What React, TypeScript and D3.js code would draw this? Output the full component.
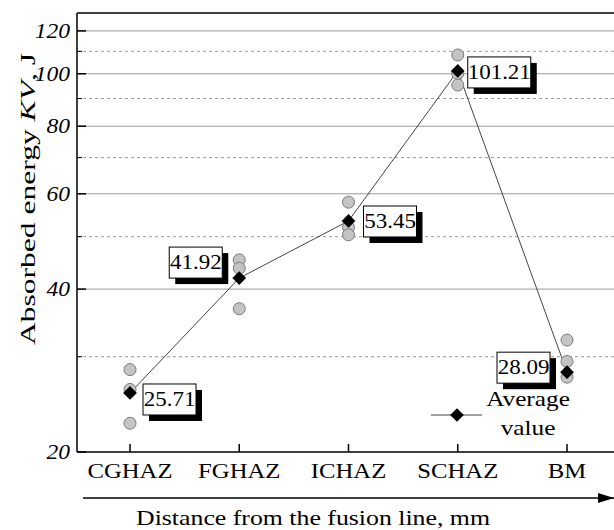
import React from "react";
import * as d3 from "d3";

// Weld zones along the distance from the fusion line
const zones = ["CGHAZ", "FGHAZ", "ICHAZ", "SCHAZ", "BM"];
// Mean absorbed energy per zone, J
const averages = [25.71, 41.92, 53.45, 101.21, 28.09];
// Individual Charpy specimens per zone, J
const specimens = [
  [28.4, 26.1, 22.6],
  [45.3, 43.7, 36.8],
  [57.9, 52.0, 50.4],
  [108.3, 100.1, 95.3],
  [32.2, 29.4, 27.5],
];
const majorTicks = [20, 40, 60, 80, 100, 120];
const minorTicks = [30, 50, 70, 90, 110];

// Value-box placement relative to each average marker (dx, dy of box top-left)
const labelOffsets: [number, number][] = [
  [13, -9],
  [-70, -31],
  [15, -15],
  [10, -14],
  [-70, -20],
];

const W = 614;
const H = 530;
const left = 77;
const right = 614;
const top = 13;
const bottom = 452;
const serif = "'Liberation Serif', 'DejaVu Serif', 'Times New Roman', serif";
const STRETCH = 1.15; // widen the Times-like face toward a schoolbook proportion

type STextProps = {
  x: number;
  y: number;
  size: number;
  anchor?: "start" | "middle" | "end";
  italic?: boolean;
  rotate?: number;
  dy?: string;
  len?: number;
  children: React.ReactNode;
};

function SText({ x, y, size, anchor = "middle", italic, rotate = 0, dy, len, children }: STextProps) {
  const sx = len ? 1 : STRETCH;
  return (
    <text
      transform={`translate(${x},${y}) rotate(${rotate}) scale(${sx},1)`}
      textAnchor={anchor}
      dy={dy}
      textLength={len}
      lengthAdjust={len ? "spacingAndGlyphs" : undefined}
      style={{ fontFamily: serif, fontSize: size, fontStyle: italic ? "italic" : "normal" }}
      fill="#000"
    >
      {children}
    </text>
  );
}

export default function App() {
  const x = d3.scalePoint<string>().domain(zones).range([130, 567]);
  const y = d3.scaleLog().domain([20, 129.5]).range([bottom, top]);
  const line = d3
    .line<number>()
    .x((_, i) => x(zones[i]) as number)
    .y((d) => y(d));
  const diamond = d3.symbol().type(d3.symbolDiamond2).size(120)();

  return (
    <svg width={W} height={H} style={{ position: "fixed", left: 0, top: 0, background: "#fff" }}>
      <defs>
        <marker
          id="arrowHead"
          viewBox="0 0 16 10"
          refX="16"
          refY="5"
          markerWidth="16"
          markerHeight="10"
          markerUnits="userSpaceOnUse"
          orient="auto"
        >
          <path d="M0,0 L16,5 L0,10 Z" fill="#000" />
        </marker>
      </defs>

      {/* grid */}
      {majorTicks
        .filter((t) => t > 20)
        .map((t) => (
          <line key={"g" + t} x1={left} x2={right} y1={y(t)} y2={y(t)} stroke="#9a9a9a" strokeWidth={1} />
        ))}
      {minorTicks.map((t) => (
        <line
          key={"m" + t}
          x1={left}
          x2={right}
          y1={y(t)}
          y2={y(t)}
          stroke="#9a9a9a"
          strokeWidth={1}
          strokeDasharray="3,3"
        />
      ))}

      {/* frame */}
      <line x1={left} x2={right} y1={top} y2={top} stroke="#000" strokeWidth={1.5} />
      <line x1={left} x2={left} y1={top} y2={bottom} stroke="#000" strokeWidth={1.5} />
      <line x1={left} x2={right} y1={bottom} y2={bottom} stroke="#000" strokeWidth={1.5} />

      {/* y ticks */}
      {majorTicks.map((t) => (
        <g key={"yt" + t}>
          <line x1={left} x2={left + 9} y1={y(t)} y2={y(t)} stroke="#000" strokeWidth={1.5} />
          <SText x={left - 7} y={y(t)} dy="0.34em" anchor="end" size={20.5} italic>
            {t}
          </SText>
        </g>
      ))}
      {minorTicks.map((t) => (
        <line key={"ym" + t} x1={left} x2={left + 5} y1={y(t)} y2={y(t)} stroke="#000" strokeWidth={1} />
      ))}

      {/* x ticks */}
      {zones.map((z) => (
        <g key={"xt" + z}>
          <line x1={x(z)} x2={x(z)} y1={bottom} y2={bottom - 8} stroke="#000" strokeWidth={1.5} />
          <SText x={x(z) as number} y={478} size={21.5}>
            {z}
          </SText>
        </g>
      ))}

      {/* distance arrow and axis titles */}
      <line x1={83} x2={614} y1={498} y2={498} stroke="#000" strokeWidth={1.5} markerEnd="url(#arrowHead)" />
      <SText x={313} y={525} size={22} len={354}>
        Distance from the fusion line, mm
      </SText>
      <SText x={35} y={199} rotate={-90} size={22} len={292}>
        Absorbed energy <tspan fontStyle="italic">KV</tspan>, J
      </SText>

      {/* trend line through averages */}
      <path d={line(averages) || ""} fill="none" stroke="#444" strokeWidth={1} />

      {/* specimens */}
      {specimens.map((vals, i) =>
        vals.map((v, j) => (
          <circle
            key={`s${i}-${j}`}
            cx={x(zones[i])}
            cy={y(v)}
            r={6}
            fill="#c4c4c4"
            stroke="#7a7a7a"
            strokeWidth={1}
          />
        ))
      )}

      {/* averages */}
      {averages.map((v, i) => (
        <path key={"a" + i} d={diamond || ""} transform={`translate(${x(zones[i])},${y(v)})`} fill="#000" />
      ))}

      {/* value boxes */}
      {averages.map((v, i) => {
        const label = v.toFixed(2);
        const bw = label.length * 10 + 3;
        const bh = 31;
        const bx = (x(zones[i]) as number) + labelOffsets[i][0];
        const by = y(v) + labelOffsets[i][1];
        return (
          <g key={"l" + i}>
            <rect x={bx + 6} y={by + 6} width={bw} height={bh} fill="#000" />
            <rect x={bx} y={by} width={bw} height={bh} fill="#fff" stroke="#000" strokeWidth={1} />
            <SText x={bx + bw / 2} y={by + bh / 2} dy="0.34em" size={20}>
              {label}
            </SText>
          </g>
        );
      })}

      {/* legend */}
      <line x1={431} x2={482} y1={415} y2={415} stroke="#444" strokeWidth={1} />
      <path d={diamond || ""} transform="translate(457,415)" fill="#000" />
      <SText x={528} y={406} size={22}>
        Average
      </SText>
      <SText x={528} y={435} size={22}>
        value
      </SText>
    </svg>
  );
}
